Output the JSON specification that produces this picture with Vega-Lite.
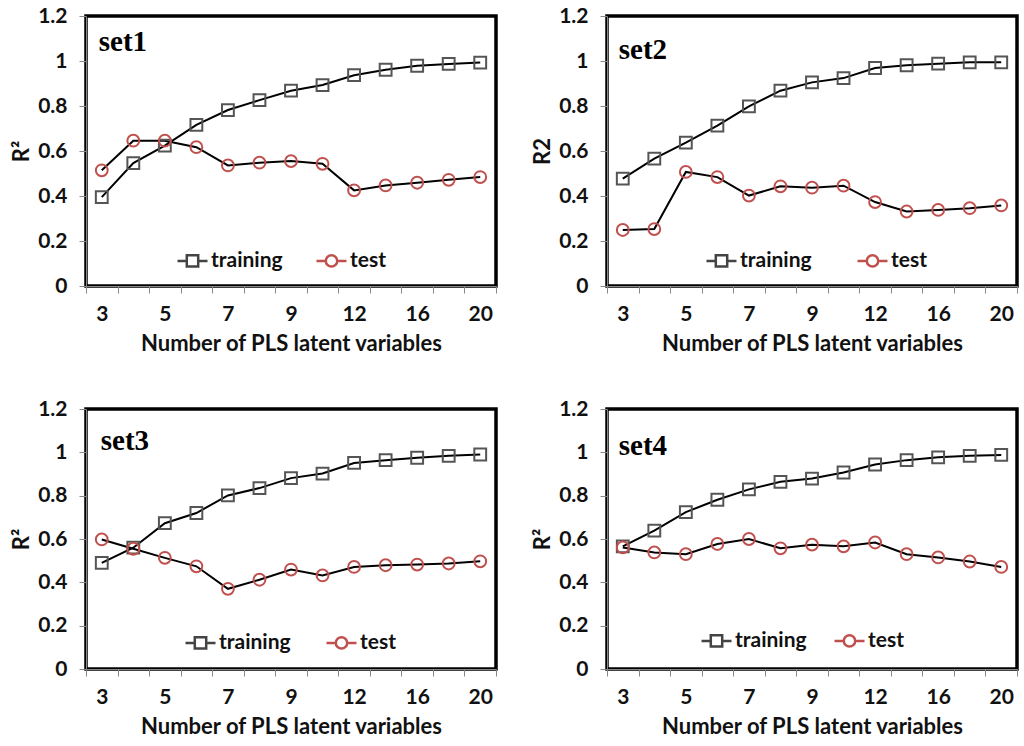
{
  "$schema": "https://vega.github.io/schema/vega-lite/v6.json",
  "padding": {"left": 8, "top": 3, "right": 5, "bottom": 0},
  "data": {"values": [
    {"set": "set1", "series": "training", "n": 3, "r2": 0.395}, {"set": "set1", "series": "training", "n": 4, "r2": 0.546},
    {"set": "set1", "series": "training", "n": 5, "r2": 0.624}, {"set": "set1", "series": "training", "n": 6, "r2": 0.716},
    {"set": "set1", "series": "training", "n": 7, "r2": 0.782}, {"set": "set1", "series": "training", "n": 8, "r2": 0.826},
    {"set": "set1", "series": "training", "n": 9, "r2": 0.868}, {"set": "set1", "series": "training", "n": 10, "r2": 0.893},
    {"set": "set1", "series": "training", "n": 12, "r2": 0.937}, {"set": "set1", "series": "training", "n": 14, "r2": 0.961},
    {"set": "set1", "series": "training", "n": 16, "r2": 0.979}, {"set": "set1", "series": "training", "n": 18, "r2": 0.987},
    {"set": "set1", "series": "training", "n": 20, "r2": 0.993},
    {"set": "set1", "series": "test", "n": 3, "r2": 0.514}, {"set": "set1", "series": "test", "n": 4, "r2": 0.646},
    {"set": "set1", "series": "test", "n": 5, "r2": 0.646}, {"set": "set1", "series": "test", "n": 6, "r2": 0.617},
    {"set": "set1", "series": "test", "n": 7, "r2": 0.536}, {"set": "set1", "series": "test", "n": 8, "r2": 0.548},
    {"set": "set1", "series": "test", "n": 9, "r2": 0.555}, {"set": "set1", "series": "test", "n": 10, "r2": 0.543},
    {"set": "set1", "series": "test", "n": 12, "r2": 0.425}, {"set": "set1", "series": "test", "n": 14, "r2": 0.447},
    {"set": "set1", "series": "test", "n": 16, "r2": 0.459}, {"set": "set1", "series": "test", "n": 18, "r2": 0.472},
    {"set": "set1", "series": "test", "n": 20, "r2": 0.484},
    {"set": "set2", "series": "training", "n": 3, "r2": 0.477}, {"set": "set2", "series": "training", "n": 4, "r2": 0.566},
    {"set": "set2", "series": "training", "n": 5, "r2": 0.637}, {"set": "set2", "series": "training", "n": 6, "r2": 0.713},
    {"set": "set2", "series": "training", "n": 7, "r2": 0.798}, {"set": "set2", "series": "training", "n": 8, "r2": 0.868},
    {"set": "set2", "series": "training", "n": 9, "r2": 0.905}, {"set": "set2", "series": "training", "n": 10, "r2": 0.924},
    {"set": "set2", "series": "training", "n": 12, "r2": 0.969}, {"set": "set2", "series": "training", "n": 14, "r2": 0.981},
    {"set": "set2", "series": "training", "n": 16, "r2": 0.988}, {"set": "set2", "series": "training", "n": 18, "r2": 0.994},
    {"set": "set2", "series": "training", "n": 20, "r2": 0.994},
    {"set": "set2", "series": "test", "n": 3, "r2": 0.249}, {"set": "set2", "series": "test", "n": 4, "r2": 0.253},
    {"set": "set2", "series": "test", "n": 5, "r2": 0.507}, {"set": "set2", "series": "test", "n": 6, "r2": 0.484},
    {"set": "set2", "series": "test", "n": 7, "r2": 0.402}, {"set": "set2", "series": "test", "n": 8, "r2": 0.443},
    {"set": "set2", "series": "test", "n": 9, "r2": 0.437}, {"set": "set2", "series": "test", "n": 10, "r2": 0.446},
    {"set": "set2", "series": "test", "n": 12, "r2": 0.373}, {"set": "set2", "series": "test", "n": 14, "r2": 0.331},
    {"set": "set2", "series": "test", "n": 16, "r2": 0.338}, {"set": "set2", "series": "test", "n": 18, "r2": 0.346},
    {"set": "set2", "series": "test", "n": 20, "r2": 0.358},
    {"set": "set3", "series": "training", "n": 3, "r2": 0.490}, {"set": "set3", "series": "training", "n": 4, "r2": 0.560},
    {"set": "set3", "series": "training", "n": 5, "r2": 0.673}, {"set": "set3", "series": "training", "n": 6, "r2": 0.720},
    {"set": "set3", "series": "training", "n": 7, "r2": 0.801}, {"set": "set3", "series": "training", "n": 8, "r2": 0.835},
    {"set": "set3", "series": "training", "n": 9, "r2": 0.881}, {"set": "set3", "series": "training", "n": 10, "r2": 0.902},
    {"set": "set3", "series": "training", "n": 12, "r2": 0.951}, {"set": "set3", "series": "training", "n": 14, "r2": 0.964},
    {"set": "set3", "series": "training", "n": 16, "r2": 0.975}, {"set": "set3", "series": "training", "n": 18, "r2": 0.984},
    {"set": "set3", "series": "training", "n": 20, "r2": 0.990},
    {"set": "set3", "series": "test", "n": 3, "r2": 0.598}, {"set": "set3", "series": "test", "n": 4, "r2": 0.555},
    {"set": "set3", "series": "test", "n": 5, "r2": 0.513}, {"set": "set3", "series": "test", "n": 6, "r2": 0.474},
    {"set": "set3", "series": "test", "n": 7, "r2": 0.370}, {"set": "set3", "series": "test", "n": 8, "r2": 0.412},
    {"set": "set3", "series": "test", "n": 9, "r2": 0.459}, {"set": "set3", "series": "test", "n": 10, "r2": 0.432},
    {"set": "set3", "series": "test", "n": 12, "r2": 0.471}, {"set": "set3", "series": "test", "n": 14, "r2": 0.479},
    {"set": "set3", "series": "test", "n": 16, "r2": 0.482}, {"set": "set3", "series": "test", "n": 18, "r2": 0.487},
    {"set": "set3", "series": "test", "n": 20, "r2": 0.497},
    {"set": "set4", "series": "training", "n": 3, "r2": 0.566}, {"set": "set4", "series": "training", "n": 4, "r2": 0.639},
    {"set": "set4", "series": "training", "n": 5, "r2": 0.724}, {"set": "set4", "series": "training", "n": 6, "r2": 0.781},
    {"set": "set4", "series": "training", "n": 7, "r2": 0.829}, {"set": "set4", "series": "training", "n": 8, "r2": 0.864},
    {"set": "set4", "series": "training", "n": 9, "r2": 0.879}, {"set": "set4", "series": "training", "n": 10, "r2": 0.907},
    {"set": "set4", "series": "training", "n": 12, "r2": 0.944}, {"set": "set4", "series": "training", "n": 14, "r2": 0.964},
    {"set": "set4", "series": "training", "n": 16, "r2": 0.977}, {"set": "set4", "series": "training", "n": 18, "r2": 0.984},
    {"set": "set4", "series": "training", "n": 20, "r2": 0.988},
    {"set": "set4", "series": "test", "n": 3, "r2": 0.561}, {"set": "set4", "series": "test", "n": 4, "r2": 0.538},
    {"set": "set4", "series": "test", "n": 5, "r2": 0.530}, {"set": "set4", "series": "test", "n": 6, "r2": 0.577},
    {"set": "set4", "series": "test", "n": 7, "r2": 0.600}, {"set": "set4", "series": "test", "n": 8, "r2": 0.557},
    {"set": "set4", "series": "test", "n": 9, "r2": 0.574}, {"set": "set4", "series": "test", "n": 10, "r2": 0.566},
    {"set": "set4", "series": "test", "n": 12, "r2": 0.584}, {"set": "set4", "series": "test", "n": 14, "r2": 0.530},
    {"set": "set4", "series": "test", "n": 16, "r2": 0.515}, {"set": "set4", "series": "test", "n": 18, "r2": 0.496},
    {"set": "set4", "series": "test", "n": 20, "r2": 0.471}
  ]},
  "columns": 2,
  "spacing": {"row": 40, "column": 30},
  "concat": [
    {
      "width": 410, "height": 270,
      "transform": [{"filter": "datum.set === 'set1'"}],
      "layer": [
        {"mark": {"type": "line", "color": "black", "strokeWidth": 2},
         "encoding": {
           "x": {"field": "n", "type": "ordinal", "title": "Number of PLS latent variables", "scale": {"type": "band", "paddingInner": 0, "paddingOuter": 0}, "axis": {"labelExpr": "indexof([3,5,7,9,12,16,20], datum.value) >= 0 ? datum.label : ''"}},
           "y": {"field": "r2", "type": "quantitative", "title": "R²", "scale": {"domain": [0, 1.2]}, "axis": {"values": [0, 0.2, 0.4, 0.6, 0.8, 1, 1.2], "format": ".1~f"}},
           "detail": {"field": "series"}}},
        {"transform": [{"filter": "datum.series === 'training'"}],
         "mark": {"type": "point", "shape": "square", "filled": false, "color": "#555555", "strokeWidth": 2, "size": 140, "opacity": 1},
         "encoding": {"x": {"field": "n", "type": "ordinal"}, "y": {"field": "r2", "type": "quantitative"}}},
        {"transform": [{"filter": "datum.series === 'test'"}],
         "mark": {"type": "point", "shape": "circle", "filled": false, "color": "#c0504d", "strokeWidth": 2, "size": 140, "opacity": 1},
         "encoding": {"x": {"field": "n", "type": "ordinal"}, "y": {"field": "r2", "type": "quantitative"}}},
        {"mark": {"type": "point", "filled": false, "size": 0, "strokeWidth": 2, "opacity": 1},
         "encoding": {
           "x": {"field": "n", "type": "ordinal"},
           "y": {"field": "r2", "type": "quantitative"},
           "color": {"field": "series", "type": "nominal", "scale": {"domain": ["training", "test"], "range": ["#444444", "#c0504d"]},
             "legend": {"orient": "none", "legendX": 90, "legendY": 228, "direction": "horizontal", "title": null, "symbolSize": 900, "symbolStrokeWidth": 2.5, "symbolOpacity": 1, "labelFont": "Lato", "labelFontSize": 21, "labelFontWeight": "bold", "labelColor": "#111", "labelOffset": 2, "columnPadding": 28}},
           "shape": {"field": "series", "type": "nominal", "scale": {"domain": ["training", "test"], "range": ["M-1,0H-0.38M0.38,0H1M-0.38,-0.38H0.38V0.38H-0.38Z", "M-1,0H-0.38M0.38,0H1M0.38,0A0.38,0.38,0,1,1,-0.38,0A0.38,0.38,0,1,1,0.38,0"]},
             "legend": {"orient": "none", "legendX": 90, "legendY": 228, "direction": "horizontal", "title": null, "symbolSize": 900, "symbolStrokeWidth": 2.5, "symbolOpacity": 1, "labelFont": "Lato", "labelFontSize": 21, "labelFontWeight": "bold", "labelColor": "#111", "labelOffset": 2, "columnPadding": 28}}}},
        {"data": {"values": [{"set": "set1", "label": "set1"}]},
         "mark": {"type": "text", "align": "left", "baseline": "alphabetic", "dx": -3, "font": "Liberation Serif", "fontSize": 29, "fontWeight": "bold"},
         "encoding": {"x": {"datum": 3, "type": "ordinal"}, "y": {"datum": 1.045, "type": "quantitative"}, "text": {"field": "label"}}}
      ]
    },
    {
      "width": 410, "height": 270,
      "transform": [{"filter": "datum.set === 'set2'"}],
      "layer": [
        {"mark": {"type": "line", "color": "black", "strokeWidth": 2},
         "encoding": {
           "x": {"field": "n", "type": "ordinal", "title": "Number of PLS latent variables", "scale": {"type": "band", "paddingInner": 0, "paddingOuter": 0}, "axis": {"labelExpr": "indexof([3,5,7,9,12,16,20], datum.value) >= 0 ? datum.label : ''"}},
           "y": {"field": "r2", "type": "quantitative", "title": "R2", "scale": {"domain": [0, 1.2]}, "axis": {"values": [0, 0.2, 0.4, 0.6, 0.8, 1, 1.2], "format": ".1~f"}},
           "detail": {"field": "series"}}},
        {"transform": [{"filter": "datum.series === 'training'"}],
         "mark": {"type": "point", "shape": "square", "filled": false, "color": "#555555", "strokeWidth": 2, "size": 140, "opacity": 1},
         "encoding": {"x": {"field": "n", "type": "ordinal"}, "y": {"field": "r2", "type": "quantitative"}}},
        {"transform": [{"filter": "datum.series === 'test'"}],
         "mark": {"type": "point", "shape": "circle", "filled": false, "color": "#c0504d", "strokeWidth": 2, "size": 140, "opacity": 1},
         "encoding": {"x": {"field": "n", "type": "ordinal"}, "y": {"field": "r2", "type": "quantitative"}}},
        {"mark": {"type": "point", "filled": false, "size": 0, "strokeWidth": 2, "opacity": 1},
         "encoding": {
           "x": {"field": "n", "type": "ordinal"},
           "y": {"field": "r2", "type": "quantitative"},
           "color": {"field": "series", "type": "nominal", "scale": {"domain": ["training", "test"], "range": ["#444444", "#c0504d"]},
             "legend": {"orient": "none", "legendX": 98, "legendY": 228, "direction": "horizontal", "title": null, "symbolSize": 900, "symbolStrokeWidth": 2.5, "symbolOpacity": 1, "labelFont": "Lato", "labelFontSize": 21, "labelFontWeight": "bold", "labelColor": "#111", "labelOffset": 2, "columnPadding": 40}},
           "shape": {"field": "series", "type": "nominal", "scale": {"domain": ["training", "test"], "range": ["M-1,0H-0.38M0.38,0H1M-0.38,-0.38H0.38V0.38H-0.38Z", "M-1,0H-0.38M0.38,0H1M0.38,0A0.38,0.38,0,1,1,-0.38,0A0.38,0.38,0,1,1,0.38,0"]},
             "legend": {"orient": "none", "legendX": 98, "legendY": 228, "direction": "horizontal", "title": null, "symbolSize": 900, "symbolStrokeWidth": 2.5, "symbolOpacity": 1, "labelFont": "Lato", "labelFontSize": 21, "labelFontWeight": "bold", "labelColor": "#111", "labelOffset": 2, "columnPadding": 40}}}},
        {"data": {"values": [{"set": "set2", "label": "set2"}]},
         "mark": {"type": "text", "align": "left", "baseline": "alphabetic", "dx": -4, "font": "Liberation Serif", "fontSize": 29, "fontWeight": "bold"},
         "encoding": {"x": {"datum": 3, "type": "ordinal"}, "y": {"datum": 1.01, "type": "quantitative"}, "text": {"field": "label"}}}
      ]
    },
    {
      "width": 410, "height": 260,
      "transform": [{"filter": "datum.set === 'set3'"}],
      "layer": [
        {"mark": {"type": "line", "color": "black", "strokeWidth": 2},
         "encoding": {
           "x": {"field": "n", "type": "ordinal", "title": "Number of PLS latent variables", "scale": {"type": "band", "paddingInner": 0, "paddingOuter": 0}, "axis": {"labelExpr": "indexof([3,5,7,9,12,16,20], datum.value) >= 0 ? datum.label : ''"}},
           "y": {"field": "r2", "type": "quantitative", "title": "R²", "scale": {"domain": [0, 1.2]}, "axis": {"values": [0, 0.2, 0.4, 0.6, 0.8, 1, 1.2], "format": ".1~f"}},
           "detail": {"field": "series"}}},
        {"transform": [{"filter": "datum.series === 'training'"}],
         "mark": {"type": "point", "shape": "square", "filled": false, "color": "#555555", "strokeWidth": 2, "size": 140, "opacity": 1},
         "encoding": {"x": {"field": "n", "type": "ordinal"}, "y": {"field": "r2", "type": "quantitative"}}},
        {"transform": [{"filter": "datum.series === 'test'"}],
         "mark": {"type": "point", "shape": "circle", "filled": false, "color": "#c0504d", "strokeWidth": 2, "size": 140, "opacity": 1},
         "encoding": {"x": {"field": "n", "type": "ordinal"}, "y": {"field": "r2", "type": "quantitative"}}},
        {"mark": {"type": "point", "filled": false, "size": 0, "strokeWidth": 2, "opacity": 1},
         "encoding": {
           "x": {"field": "n", "type": "ordinal"},
           "y": {"field": "r2", "type": "quantitative"},
           "color": {"field": "series", "type": "nominal", "scale": {"domain": ["training", "test"], "range": ["#444444", "#c0504d"]},
             "legend": {"orient": "none", "legendX": 98, "legendY": 217, "direction": "horizontal", "title": null, "symbolSize": 900, "symbolStrokeWidth": 2.5, "symbolOpacity": 1, "labelFont": "Lato", "labelFontSize": 21, "labelFontWeight": "bold", "labelColor": "#111", "labelOffset": 2, "columnPadding": 30}},
           "shape": {"field": "series", "type": "nominal", "scale": {"domain": ["training", "test"], "range": ["M-1,0H-0.38M0.38,0H1M-0.38,-0.38H0.38V0.38H-0.38Z", "M-1,0H-0.38M0.38,0H1M0.38,0A0.38,0.38,0,1,1,-0.38,0A0.38,0.38,0,1,1,0.38,0"]},
             "legend": {"orient": "none", "legendX": 98, "legendY": 217, "direction": "horizontal", "title": null, "symbolSize": 900, "symbolStrokeWidth": 2.5, "symbolOpacity": 1, "labelFont": "Lato", "labelFontSize": 21, "labelFontWeight": "bold", "labelColor": "#111", "labelOffset": 2, "columnPadding": 30}}}},
        {"data": {"values": [{"set": "set3", "label": "set3"}]},
         "mark": {"type": "text", "align": "left", "baseline": "alphabetic", "dx": -1, "font": "Liberation Serif", "fontSize": 29, "fontWeight": "bold"},
         "encoding": {"x": {"datum": 3, "type": "ordinal"}, "y": {"datum": 1.01, "type": "quantitative"}, "text": {"field": "label"}}}
      ]
    },
    {
      "width": 410, "height": 260,
      "transform": [{"filter": "datum.set === 'set4'"}],
      "layer": [
        {"mark": {"type": "line", "color": "black", "strokeWidth": 2},
         "encoding": {
           "x": {"field": "n", "type": "ordinal", "title": "Number of PLS latent variables", "scale": {"type": "band", "paddingInner": 0, "paddingOuter": 0}, "axis": {"labelExpr": "indexof([3,5,7,9,12,16,20], datum.value) >= 0 ? datum.label : ''"}},
           "y": {"field": "r2", "type": "quantitative", "title": "R²", "scale": {"domain": [0, 1.2]}, "axis": {"values": [0, 0.2, 0.4, 0.6, 0.8, 1, 1.2], "format": ".1~f"}},
           "detail": {"field": "series"}}},
        {"transform": [{"filter": "datum.series === 'training'"}],
         "mark": {"type": "point", "shape": "square", "filled": false, "color": "#555555", "strokeWidth": 2, "size": 140, "opacity": 1},
         "encoding": {"x": {"field": "n", "type": "ordinal"}, "y": {"field": "r2", "type": "quantitative"}}},
        {"transform": [{"filter": "datum.series === 'test'"}],
         "mark": {"type": "point", "shape": "circle", "filled": false, "color": "#c0504d", "strokeWidth": 2, "size": 140, "opacity": 1},
         "encoding": {"x": {"field": "n", "type": "ordinal"}, "y": {"field": "r2", "type": "quantitative"}}},
        {"mark": {"type": "point", "filled": false, "size": 0, "strokeWidth": 2, "opacity": 1},
         "encoding": {
           "x": {"field": "n", "type": "ordinal"},
           "y": {"field": "r2", "type": "quantitative"},
           "color": {"field": "series", "type": "nominal", "scale": {"domain": ["training", "test"], "range": ["#444444", "#c0504d"]},
             "legend": {"orient": "none", "legendX": 93, "legendY": 215, "direction": "horizontal", "title": null, "symbolSize": 900, "symbolStrokeWidth": 2.5, "symbolOpacity": 1, "labelFont": "Lato", "labelFontSize": 21, "labelFontWeight": "bold", "labelColor": "#111", "labelOffset": 2, "columnPadding": 22}},
           "shape": {"field": "series", "type": "nominal", "scale": {"domain": ["training", "test"], "range": ["M-1,0H-0.38M0.38,0H1M-0.38,-0.38H0.38V0.38H-0.38Z", "M-1,0H-0.38M0.38,0H1M0.38,0A0.38,0.38,0,1,1,-0.38,0A0.38,0.38,0,1,1,0.38,0"]},
             "legend": {"orient": "none", "legendX": 93, "legendY": 215, "direction": "horizontal", "title": null, "symbolSize": 900, "symbolStrokeWidth": 2.5, "symbolOpacity": 1, "labelFont": "Lato", "labelFontSize": 21, "labelFontWeight": "bold", "labelColor": "#111", "labelOffset": 2, "columnPadding": 22}}}},
        {"data": {"values": [{"set": "set4", "label": "set4"}]},
         "mark": {"type": "text", "align": "left", "baseline": "alphabetic", "dx": -4, "font": "Liberation Serif", "fontSize": 29, "fontWeight": "bold"},
         "encoding": {"x": {"datum": 3, "type": "ordinal"}, "y": {"datum": 0.99, "type": "quantitative"}, "text": {"field": "label"}}}
      ]
    }
  ],
  "resolve": {"scale": {"color": "independent", "shape": "independent"}, "legend": {"color": "independent", "shape": "independent"}},
  "config": {
    "view": {"stroke": "black", "strokeWidth": 3.5},
    "font": "Lato",
    "axis": {"grid": false, "domainColor": "#888888", "tickColor": "#888888", "tickSize": 7, "labelFont": "Lato", "labelFontSize": 21, "labelFontWeight": "bold", "labelColor": "#111111", "titleFont": "Lato", "titleFontSize": 22, "titleFontWeight": "bold", "titleColor": "#111111"},
    "axisX": {"tickBand": "extent", "labelAngle": 0, "labelPadding": 10, "titlePadding": 9},
    "axisY": {"labelPadding": 12, "titlePadding": 4}
  }
}
